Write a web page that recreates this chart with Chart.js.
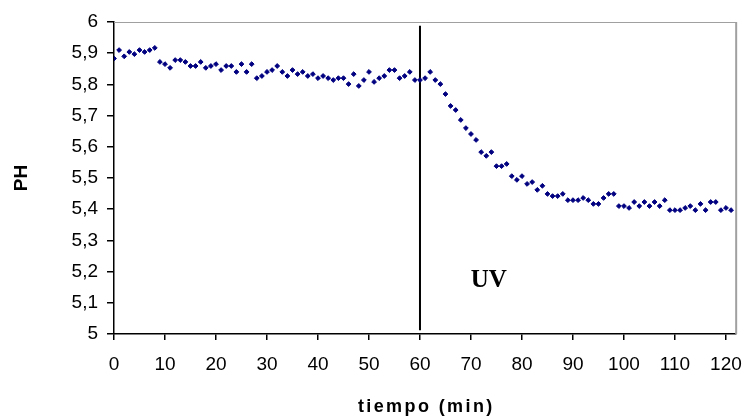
<!DOCTYPE html>
<html>
<head>
<meta charset="utf-8">
<title>PH vs tiempo</title>
<script src="https://cdn.jsdelivr.net/npm/chart.js@4/dist/chart.umd.min.js"></script>
<style>
  html, body { margin: 0; padding: 0; background: #ffffff; }
  #wrap { width: 755px; height: 418px; }
</style>
</head>
<body>
<div id="wrap"><canvas id="c" width="755" height="418"></canvas></div>
<script>
// Measurement times (min)
const tiempo = [
  0, 1, 2, 3, 4, 5, 6, 7, 8, 9,
  10, 11, 12, 13, 14, 15, 16, 17, 18, 19,
  20, 21, 22, 23, 24, 25, 26, 27, 28, 29,
  30, 31, 32, 33, 34, 35, 36, 37, 38, 39,
  40, 41, 42, 43, 44, 45, 46, 47, 48, 49,
  50, 51, 52, 53, 54, 55, 56, 57, 58, 59,
  60, 61, 62, 63, 64, 65, 66, 67, 68, 69,
  70, 71, 72, 73, 74, 75, 76, 77, 78, 79,
  80, 81, 82, 83, 84, 85, 86, 87, 88, 89,
  90, 91, 92, 93, 94, 95, 96, 97, 98, 99,
  100, 101, 102, 103, 104, 105, 106, 107, 108, 109,
  110, 111, 112, 113, 114, 115, 116, 117, 118, 119,
  120, 121
];

// Measured pH at each time
const ph = [
  5.883, 5.910, 5.890, 5.904, 5.897, 5.910, 5.904, 5.910, 5.917, 5.872,
  5.865, 5.853, 5.878, 5.878, 5.872, 5.859, 5.859, 5.872, 5.853, 5.859,
  5.865, 5.846, 5.859, 5.859, 5.840, 5.865, 5.840, 5.865, 5.820, 5.827,
  5.840, 5.846, 5.859, 5.840, 5.827, 5.846, 5.833, 5.840, 5.827, 5.833,
  5.820, 5.827, 5.820, 5.814, 5.820, 5.820, 5.801, 5.833, 5.795, 5.814,
  5.840, 5.808, 5.820, 5.827, 5.846, 5.846, 5.820, 5.827, 5.840, 5.814,
  5.814, 5.820, 5.840, 5.814, 5.801, 5.769, 5.731, 5.718, 5.686, 5.660,
  5.641, 5.622, 5.583, 5.571, 5.583, 5.538, 5.538, 5.545, 5.506, 5.494,
  5.506, 5.481, 5.487, 5.462, 5.475, 5.449, 5.442, 5.442, 5.449, 5.429,
  5.429, 5.429, 5.436, 5.429, 5.417, 5.417, 5.436, 5.449, 5.449, 5.410,
  5.410, 5.404, 5.423, 5.410, 5.423, 5.410, 5.423, 5.410, 5.429, 5.397,
  5.397, 5.397, 5.404, 5.410, 5.397, 5.417, 5.397, 5.423, 5.423, 5.397,
  5.404, 5.397
];

// Axis tick labels
const xTickValues = [0, 10, 20, 30, 40, 50, 60, 70, 80, 90, 100, 110, 120];
const yTickLabels = ['5', '5,1', '5,2', '5,3', '5,4', '5,5', '5,6', '5,7', '5,8', '5,9', '6'];

// Axis ranges
const xRange = [0, 122];
const yRange = [5, 6];

// UV lamp switched on at this time; marker line and its label
const uvTime = 60;
const uvLineEnds = [5.012, 5.988];
const uvLabel = 'UV';
const uvLabelAt = [73.5, 5.152];

const xTitle = 'tiempo (min)';
const yTitle = 'PH';

const tickFont = { family: '"Liberation Sans", Arial, sans-serif', size: 19 };

const frameAndLabels = {
  id: 'frameAndLabels',
  afterDraw(chart) {
    const { ctx, chartArea: a, scales } = chart;
    ctx.save();
    // grey frame on top and right of the plot area
    ctx.strokeStyle = '#a0a0a0';
    ctx.lineWidth = 1;
    ctx.beginPath();
    ctx.moveTo(a.left, a.top + 0.5);
    ctx.lineTo(a.right, a.top + 0.5);
    ctx.stroke();
    ctx.lineWidth = 2;
    ctx.beginPath();
    ctx.moveTo(a.right, a.top);
    ctx.lineTo(a.right, a.bottom);
    ctx.stroke();

    // UV label
    ctx.fillStyle = '#000';
    ctx.font = 'bold 25px "Liberation Serif", "Times New Roman", serif';
    ctx.textAlign = 'center';
    ctx.textBaseline = 'alphabetic';
    ctx.fillText(uvLabel, scales.x.getPixelForValue(uvLabelAt[0]), scales.y.getPixelForValue(uvLabelAt[1]));

    // x axis title
    ctx.font = 'bold 18px "Liberation Sans", Arial, sans-serif';
    if ('letterSpacing' in ctx) ctx.letterSpacing = '2.4px';
    ctx.fillText(xTitle, (a.left + a.right) / 2 + 1.2, 412);
    ctx.restore();
  }
};

new Chart(document.getElementById('c'), {
  type: 'scatter',
  data: {
    datasets: [
      {
        data: tiempo.map((t, i) => ({ x: t, y: ph[i] })),
        pointStyle: 'rectRot',
        pointRadius: 2.4,
        pointHoverRadius: 2.4,
        backgroundColor: '#000080',
        borderColor: '#000080',
        borderWidth: 1,
        showLine: false
      },
      {
        data: uvLineEnds.map(v => ({ x: uvTime, y: v })),
        showLine: true,
        borderColor: '#000000',
        borderWidth: 2,
        pointRadius: 0,
        pointHoverRadius: 0
      }
    ]
  },
  options: {
    responsive: false,
    animation: false,
    devicePixelRatio: 1,
    events: [],
    layout: { padding: { left: 0, top: 22, right: 11, bottom: 0 } },
    plugins: { legend: { display: false }, tooltip: { enabled: false } },
    scales: {
      x: {
        type: 'linear',
        min: xRange[0],
        max: xRange[1],
        afterBuildTicks: s => { s.ticks = xTickValues.map(v => ({ value: v })); },
        afterFit: s => { s.height = 84; },
        ticks: { font: tickFont, color: '#000', padding: 13, maxRotation: 0, autoSkip: false },
        grid: { drawOnChartArea: false, drawTicks: true, tickLength: 6, color: '#000', lineWidth: 1.5 },
        border: { color: '#000', width: 1.5 }
      },
      y: {
        min: yRange[0],
        max: yRange[1],
        afterBuildTicks: s => { s.ticks = yTickLabels.map(l => ({ value: parseFloat(l.replace(',', '.')) })); },
        afterFit: s => { s.width = 114; },
        ticks: { font: tickFont, color: '#000', padding: 9, callback: (v, i) => yTickLabels[i] },
        grid: { drawOnChartArea: false, drawTicks: true, tickLength: 7, color: '#000', lineWidth: 1.5 },
        border: { color: '#000', width: 1.5 },
        title: {
          display: true,
          text: yTitle,
          color: '#000',
          font: { family: '"Liberation Sans", Arial, sans-serif', size: 19, weight: 'bold' },
          padding: { top: 10, bottom: 0 }
        }
      }
    }
  },
  plugins: [frameAndLabels]
});
</script>
</body>
</html>
